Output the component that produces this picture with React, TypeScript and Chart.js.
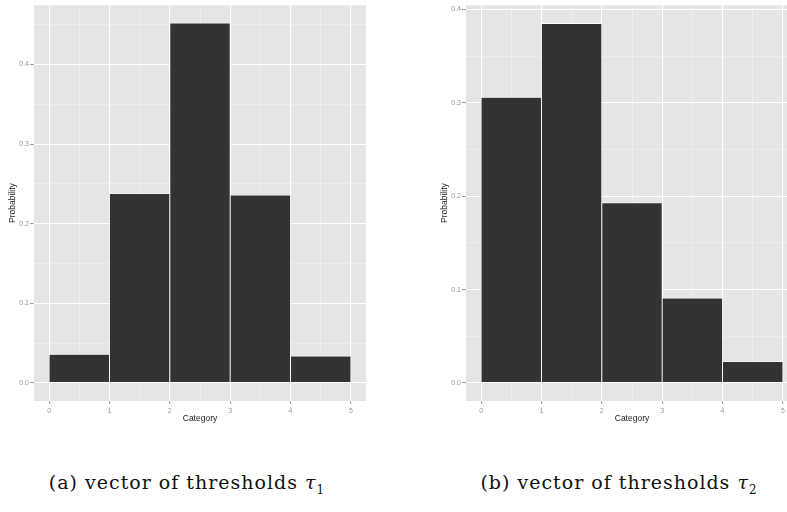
import * as React from 'react';
import { useEffect, useRef } from 'react';
import Chart from 'chart.js/auto';

// histogram bins (category intervals 0-1, 1-2, ...), drawn at their centres
const binCenters = [0.5, 1.5, 2.5, 3.5, 4.5];
const probsTau1 = [0.036, 0.238, 0.452, 0.236, 0.034];
const probsTau2 = [0.306, 0.385, 0.193, 0.091, 0.023];

const xTickValues = [0, 0.5, 1, 1.5, 2, 2.5, 3, 3.5, 4, 4.5, 5];
const xMajor = [0, 1, 2, 3, 4, 5];
const yTicksTau1 = [0, 0.05, 0.1, 0.15, 0.2, 0.25, 0.3, 0.35, 0.4, 0.45];
const yTicksTau2 = [0, 0.05, 0.1, 0.15, 0.2, 0.25, 0.3, 0.35, 0.4];
const yMajor = [0, 0.1, 0.2, 0.3, 0.4];

const captions = ['(a) vector of thresholds ', '(b) vector of thresholds '];

const isMajor = (list: number[], v: any) => v != null && list.some(m => Math.abs(m - Number(v)) < 1e-9);
const tickVal = (c: any) => (c && c.tick ? c.tick.value : null);

const panelBg = {
  id: 'panelBg',
  beforeDraw(chart: any) {
    const { ctx, chartArea } = chart;
    ctx.save();
    ctx.fillStyle = '#e5e5e5';
    ctx.fillRect(chartArea.left, chartArea.top, chartArea.right - chartArea.left, chartArea.bottom - chartArea.top);
    ctx.restore();
  }
};

const Hist = (props: { values: number[]; yTicks: number[]; yMin: number; yMax: number; left: number }) => {
  const canvasRef = useRef<HTMLCanvasElement>(null);

  useEffect(() => {
    const gridColor = (list: number[]) => (c: any) => isMajor(list, tickVal(c)) ? '#ffffff' : '#f2f2f2';
    const gridWidth = (list: number[]) => (c: any) => isMajor(list, tickVal(c)) ? 1.1 : 0.6;
    const tickColor = (list: number[]) => (c: any) => isMajor(list, tickVal(c)) ? '#a0a0a0' : 'rgba(0,0,0,0)';

    const chart = new Chart(canvasRef.current!, {
      type: 'bar',
      data: {
        datasets: [{
          data: binCenters.map((x, i) => ({ x, y: props.values[i] })),
          backgroundColor: '#333333',
          borderColor: '#ffffff',
          borderWidth: 0.8,
          borderSkipped: false,
          barThickness: 'flex',
          barPercentage: 1,
          categoryPercentage: 1,
        }]
      },
      options: {
        animation: false,
        responsive: false,
        layout: { padding: { top: 5, right: 0, left: 0, bottom: 0 } },
        plugins: { legend: { display: false }, tooltip: { enabled: false } },
        scales: {
          x: {
            type: 'linear',
            offset: false,
            min: -0.25,
            max: 5.25,
            afterBuildTicks: (s: any) => { s.ticks = xTickValues.map(v => ({ value: v })); },
            afterFit: (s: any) => { s.height = 29; },
            border: { display: false },
            grid: { offset: false, color: gridColor(xMajor), lineWidth: gridWidth(xMajor), tickColor: tickColor(xMajor), tickLength: 3 },
            ticks: {
              autoSkip: false,
              maxRotation: 0,
              padding: 3,
              color: '#999999',
              font: { family: 'Liberation Sans', size: 7 },
              callback: (v: any) => isMajor(xMajor, v) ? String(v) : '',
            },
            title: { display: true, text: 'Category', color: '#222222', padding: { top: 0, bottom: 6 }, font: { family: 'Liberation Sans', size: 8.5 } },
          },
          y: {
            type: 'linear',
            min: props.yMin,
            max: props.yMax,
            afterBuildTicks: (s: any) => { s.ticks = props.yTicks.map(v => ({ value: v })); },
            afterFit: (s: any) => { s.width = 34; },
            border: { display: false },
            grid: { color: gridColor(yMajor), lineWidth: gridWidth(yMajor), tickColor: tickColor(yMajor), tickLength: 4 },
            ticks: {
              autoSkip: false,
              padding: 1,
              color: '#999999',
              font: { family: 'Liberation Sans', size: 7 },
              callback: (v: any) => isMajor(yMajor, v) ? Number(v).toFixed(1) : '',
            },
            title: { display: true, text: 'Probability', color: '#222222', padding: { top: 8, bottom: 0 }, font: { family: 'Liberation Sans', size: 8.5 } },
          },
        },
      },
      plugins: [panelBg],
    } as any);
    return () => chart.destroy();
  }, []);

  return <canvas ref={canvasRef} width={366} height={430}
    style={{ position: 'absolute', left: props.left, top: 0, width: 366, height: 430 }} />;
};

const Caption = (props: { text: string; sub: string; center: number }) => (
  <div style={{
    position: 'absolute', left: props.center - 200, width: 400, top: 471, textAlign: 'center',
    fontFamily: 'DejaVu Serif', fontSize: 19, letterSpacing: 1.0, color: '#111111', whiteSpace: 'nowrap'
  }}>
    {props.text}<i>τ</i><sub style={{ fontSize: 12 }}>{props.sub}</sub>
  </div>
);

export default function App() {
  return (
    <div style={{ position: 'fixed', left: 0, top: 0, width: 787, height: 512, overflow: 'hidden', background: '#ffffff' }}>
      <Hist values={probsTau1} yTicks={yTicksTau1} yMin={-0.0226} yMax={0.4745} left={0} />
      <Hist values={probsTau2} yTicks={yTicksTau2} yMin={-0.0193} yMax={0.4045} left={432} />
      <Caption text={captions[0]} sub="1" center={187} />
      <Caption text={captions[1]} sub="2" center={619} />
    </div>
  );
}
